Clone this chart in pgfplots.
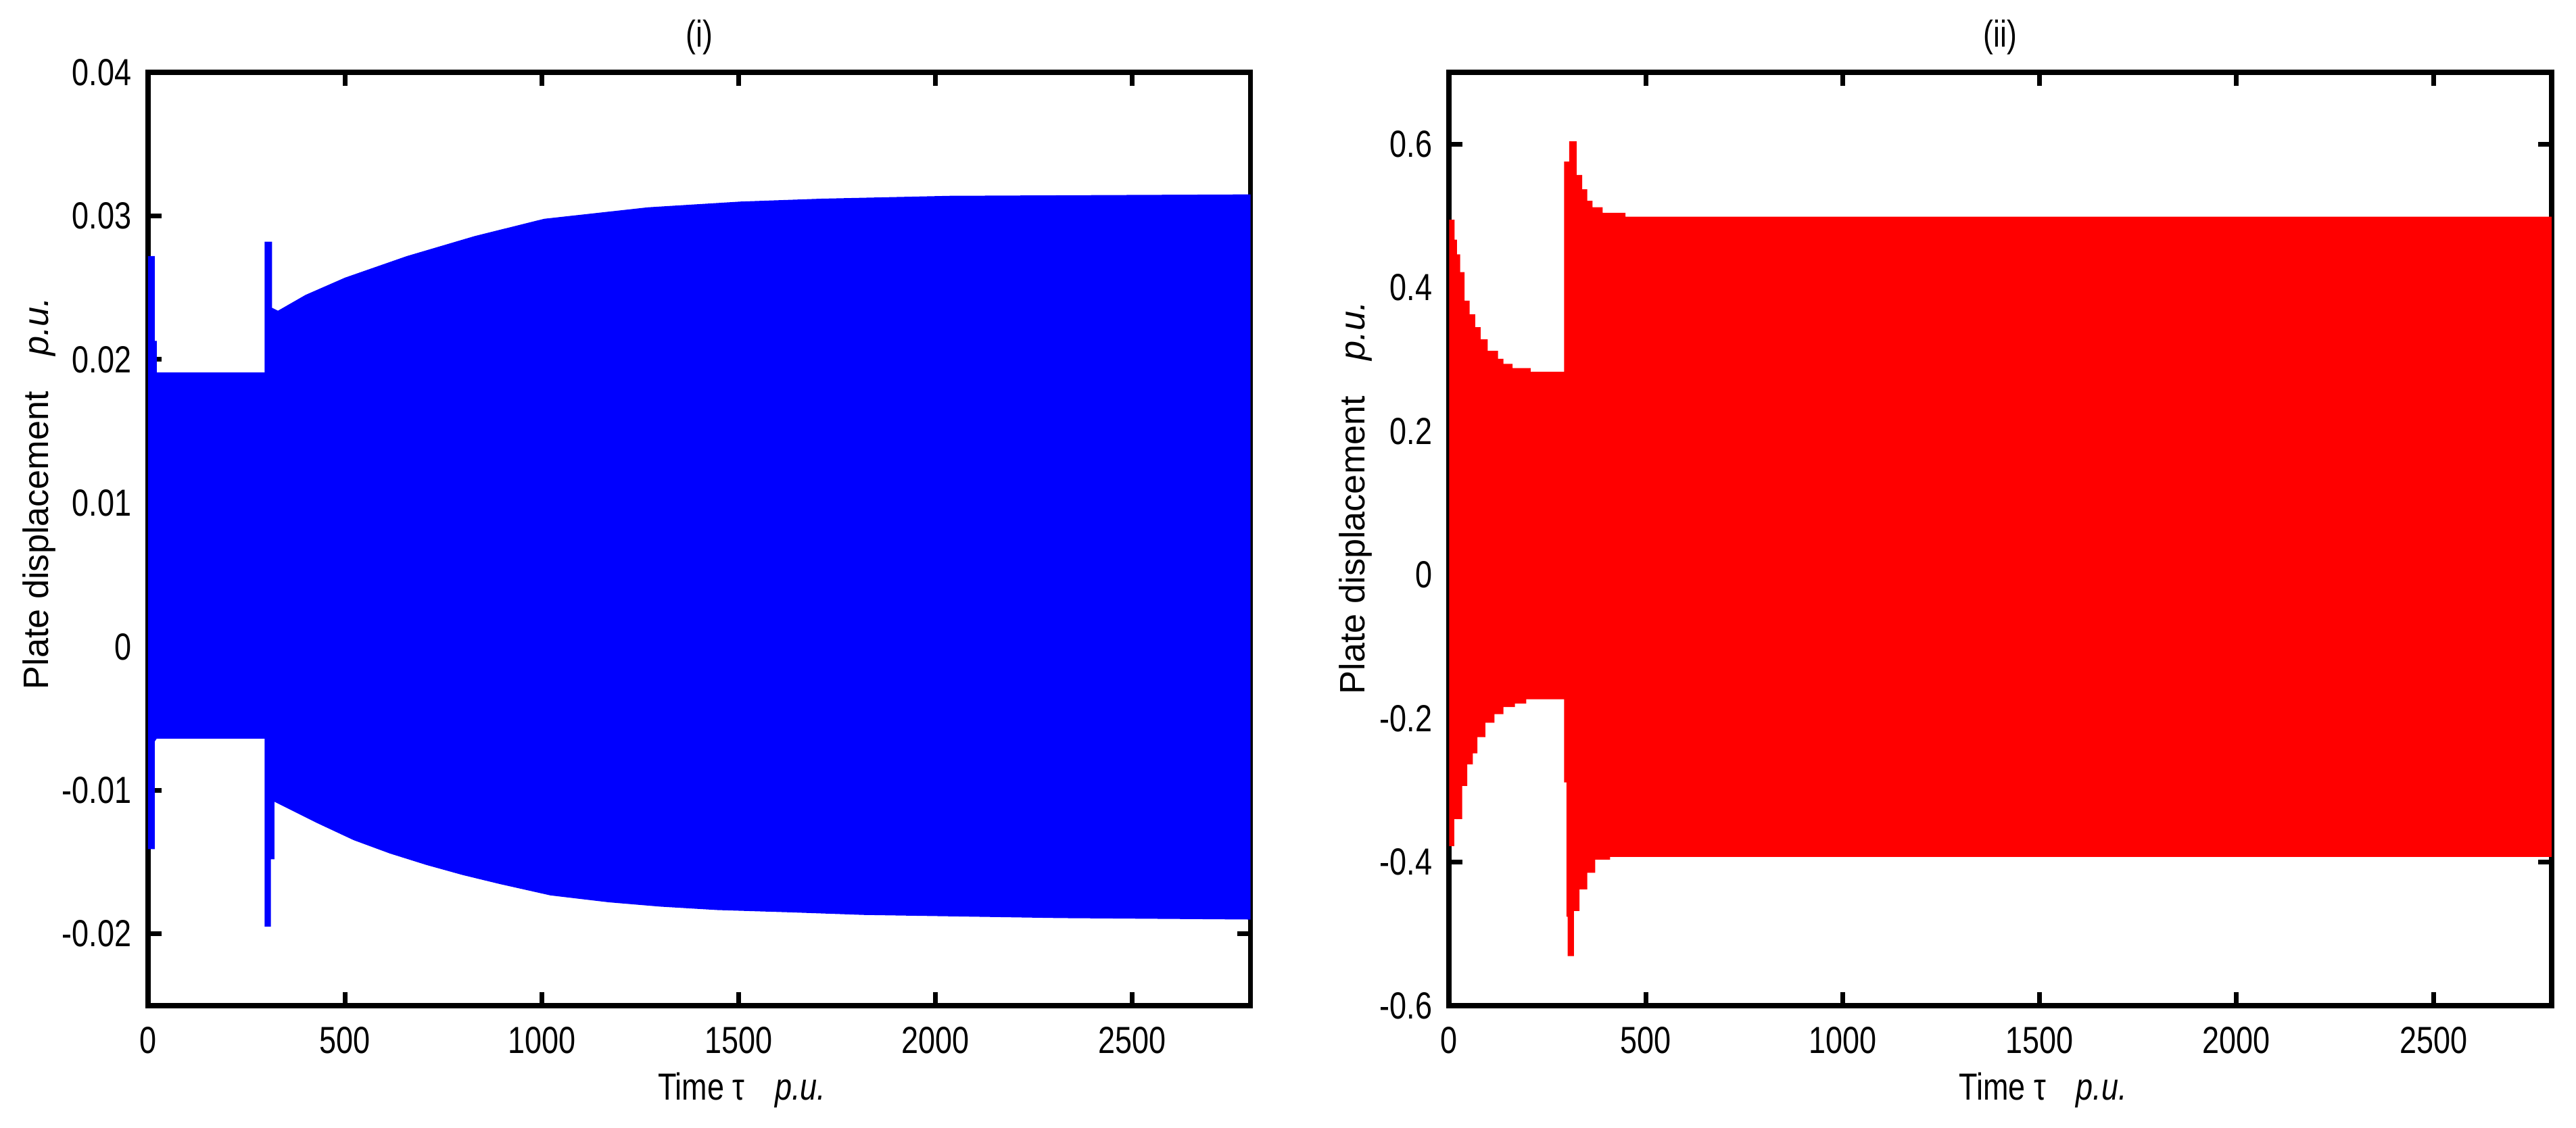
\documentclass[border=0pt]{standalone}
\usepackage{fontspec}
\setmainfont{Liberation Sans}
\newfontfamily\nfont{Liberation Sans}[FakeStretch=0.806]
\usepackage{pgfplots}
\pgfplotsset{compat=1.18}
\definecolor{mblue}{RGB}{0,0,255}
\definecolor{mred}{RGB}{255,0,0}
\pgfplotsset{
  myax/.style={
    scale only axis, width=8.1525cm, height=6.905cm,
    anchor=south west,
    axis line style={line width=1.1pt},
    every tick/.style={black, line width=1.0pt},
    tick align=inside, major tick length=0.1cm,
    xmin=0, xmax=2800, xtick={0,500,1000,1500,2000,2500},
    tick label style={font=\nfont\fontsize{7.94}{9}\selectfont},
    /pgf/number format/assume math mode=true,
    /pgf/number format/1000 sep={},
    xticklabel style={yshift=-1pt},
    xlabel={Time τ\hspace{0.8em}\textit{p.u.}},
    xlabel style={at={(axis description cs:0.5,0)}, anchor=base, yshift=-0.695cm, xshift=0.315cm, font=\nfont\fontsize{7.94}{9}\selectfont},
    scaled y ticks=false,
    ylabel={Plate displacement\hspace{1em}\textit{p.u.}},
  }
}
\begin{document}
\begin{tikzpicture}
\useasboundingbox (-1.095,-0.9) rectangle (17.955,7.44);
\begin{axis}[myax, name=L, at={(0,0)},
  ymin=-0.025, ymax=0.04,
  ytick={-0.02,-0.01,0,0.01,0.02,0.03,0.04},
  yticklabel style={/pgf/number format/fixed, /pgf/number format/precision=2},
  ylabel style={at={(axis description cs:-0.0902,0.549)}, anchor=base, font=\fontsize{7.43}{9}\selectfont}]
\addplot[draw=none, fill=mblue] coordinates {
(0,0.0272) (17,0.0272) (17,0.0213) (22,0.0213) (22,0.0191) (296,0.0191)
(296,0.0282) (315,0.0282) (315,0.0236) (330,0.0234) (400,0.0245) (500,0.0257)
(657,0.0272) (830,0.0286) (1006,0.0298) (1270,0.0306) (1505,0.0310) (1710,0.0312)
(2036,0.0314) (2800,0.0315)
(2800,-0.0190) (2316,-0.0189) (1817,-0.01868) (1632,-0.0185) (1446,-0.01834)
(1300,-0.0181) (1170,-0.0178) (1022,-0.01732) (892,-0.01652) (799,-0.0159)
(707,-0.0152) (614,-0.0144) (522,-0.01347) (430,-0.01229) (321,-0.0108)
(321,-0.0148) (312,-0.0148) (312,-0.0195) (296,-0.0195) (296,-0.0064)
(22,-0.0064) (17,-0.0066) (17,-0.0141) (0,-0.0141)
} -- cycle;
\end{axis}
\node[anchor=base, yshift=0.19cm, font=\nfont\fontsize{7.87}{9}\selectfont] at (L.north) {(i)};
\begin{axis}[myax, name=R, at={(9.6215cm,0)},
  ymin=-0.6, ymax=0.7,
  ytick={-0.6,-0.4,-0.2,0,0.2,0.4,0.6},
  yticklabel style={/pgf/number format/fixed, /pgf/number format/precision=1},
  ylabel style={at={(axis description cs:-0.0767,0.544)}, anchor=base, font=\fontsize{7.43}{9}\selectfont}]
\addplot[draw=none, fill=mred] coordinates {
(0,0.4946) (14,0.4946) (14,0.467) (20,0.467) (20,0.4465) (28,0.4465) (28,0.4218)
(39,0.4218) (39,0.382) (52,0.382) (52,0.363) (66,0.363) (66,0.345) (80,0.345)
(80,0.328) (98,0.328) (98,0.312) (124,0.312) (124,0.301) (138,0.301) (138,0.294)
(161,0.294) (161,0.288) (207,0.288) (207,0.283) (292,0.283) (292,0.5756)
(305,0.5756) (305,0.604) (324,0.604) (324,0.557) (338,0.557) (338,0.537)
(351,0.537) (351,0.521) (364,0.521) (364,0.512) (390,0.512) (390,0.5043)
(448,0.5043) (448,0.499) (2800,0.499)
(2800,-0.3927) (409,-0.3927) (409,-0.3966) (371,-0.3966) (371,-0.415) (351,-0.415)
(351,-0.438) (331,-0.438) (331,-0.468) (317,-0.468) (317,-0.531) (301,-0.531)
(301,-0.476) (298,-0.476) (298,-0.289) (292,-0.289) (292,-0.1733) (196,-0.1733)
(196,-0.179) (167,-0.179) (167,-0.184) (138,-0.184) (138,-0.1938) (115,-0.1938)
(115,-0.206) (92,-0.206) (92,-0.226) (72,-0.226) (72,-0.2486) (60,-0.2486)
(60,-0.2637) (46,-0.2637) (46,-0.294) (33,-0.294) (33,-0.340) (13,-0.340)
(13,-0.3777) (0,-0.3777)
} -- cycle;
\end{axis}
\node[anchor=base, yshift=0.19cm, font=\nfont\fontsize{7.87}{9}\selectfont] at (R.north) {(ii)};
\end{tikzpicture}
\end{document}
